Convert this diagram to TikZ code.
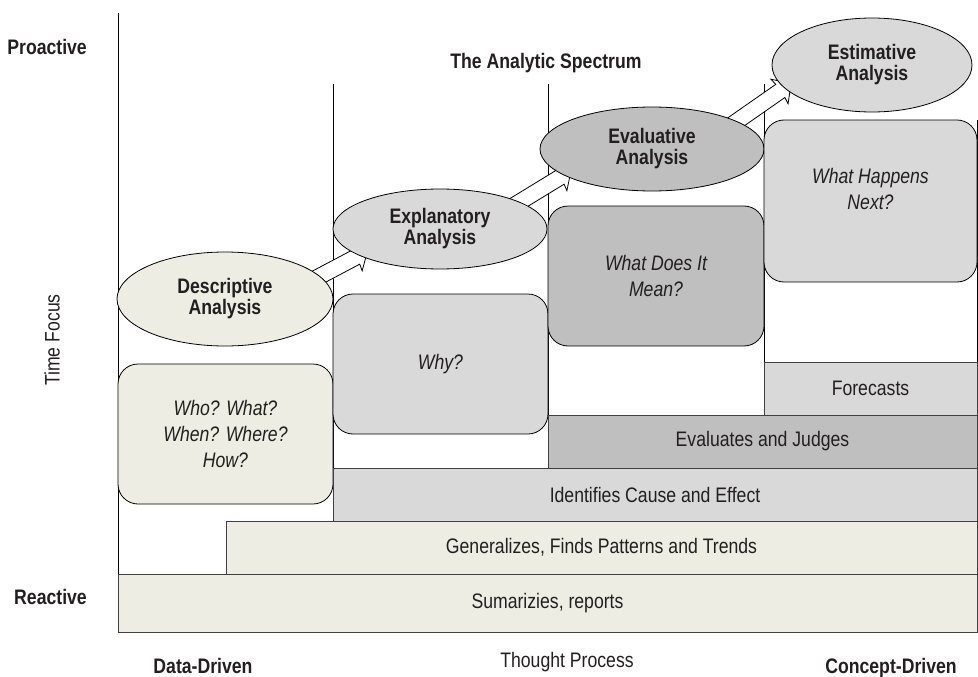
\documentclass[tikz,border=0pt]{standalone}
\usepackage{fontspec}
\setmainfont{Liberation Sans}[FakeStretch=0.84]
\usetikzlibrary{calc,shapes.geometric}
\definecolor{beige}{HTML}{EEEDE3}
\definecolor{lgray}{HTML}{D9D9D9}
\definecolor{dgray}{HTML}{BFBFBF}
\definecolor{txt}{HTML}{231F20}
\newcommand\hollowarrow[2]{%
  \path (#1) coordinate (ha) (#2) coordinate (hb)
    ($(hb)!13pt!(ha)$) coordinate (hh)
    ($(hb)!14pt!(ha)$) coordinate (hk);
  \draw[harrow] ($(ha)!8pt!90:(hb)$) -- ($(hh)!8pt!90:(hb)$) -- ($(hk)!15pt!90:(hb)$) -- (hb)
    -- ($(hk)!15pt!-90:(hb)$) -- ($(hh)!8pt!-90:(hb)$) -- ($(ha)!8pt!-90:(hb)$) -- cycle;}
\begin{document}
\begin{tikzpicture}[x=1pt,y=-1pt,
  lbl/.style={font=\fontsize{21}{21}\selectfont\bfseries, text=txt, align=center, inner sep=0pt},
  ital/.style={font=\fontsize{21}{26}\selectfont\itshape, text=txt, align=center},
  plain/.style={font=\fontsize{21}{24}\selectfont, text=txt},
  bar/.style={draw=black!75, line width=1pt, inner sep=0pt, plain},
  rbox/.style={draw=black, line width=0.8pt, rounded corners=20pt, inner sep=0pt, ital},
  ell/.style={draw=black, line width=0.8pt, ellipse, inner sep=0pt, lbl},
  harrow/.style={draw=black, fill=white, line width=0.8pt, line join=miter},
  vline/.style={draw=black, line width=0.9pt}
]
\useasboundingbox (0,0) rectangle (978,677);

% axis and column lines
\draw[vline] (118,13) -- (118,574);
\draw[vline] (333,84) -- (333,468);
\draw[vline] (548,84) -- (548,415);
\draw[vline] (764,84) -- (764,362);
\draw[vline] (977,120) -- (977,362);

% arrow end points
\coordinate (a1s) at (290,292); \coordinate (a1e) at (367.5,251);
\coordinate (a2s) at (500,214); \coordinate (a2e) at (571,170.6);
\coordinate (a3s) at (715,136.5); \coordinate (a3e) at (791,83.5);
\hollowarrow{a1s}{a1e}
\hollowarrow{a2s}{a2e}
\hollowarrow{a3s}{a3e}

% ellipses
\node[ell, fill=beige, minimum width=216pt, minimum height=94pt] (desc) at (225,299) {Descriptive\\Analysis};
\node[ell, fill=lgray, minimum width=214pt, minimum height=80pt] (expl) at (440,229) {Explanatory\\Analysis};
\node[ell, fill=dgray, minimum width=224pt, minimum height=84pt] (evalu) at (652,149) {Evaluative\\Analysis};
\node[ell, fill=lgray, minimum width=200pt, minimum height=94pt] (estim) at (872,65) {Estimative\\Analysis};

% rounded question boxes
\node[rbox, fill=beige, minimum width=215pt, minimum height=140pt] (who) at (225.5,434) {Who? What?\\When? Where?\\How?};
\node[rbox, fill=lgray, minimum width=215pt, minimum height=140pt] (why) at (440.5,364) {Why?};
\node[rbox, fill=dgray, minimum width=216pt, minimum height=140pt] (mean) at (656,276) {What Does It\\Mean?};
\node[rbox, fill=lgray, minimum width=213pt, minimum height=162pt] (next) at (870.5,201) {};
\node[ital] (nextt) at (870.5,189) {What Happens\\Next?};

% bars
\node[bar, fill=lgray, minimum width=213pt, minimum height=53pt] (fore) at (870.5,388.5) {Forecasts};
\node[bar, fill=dgray, minimum width=429pt, minimum height=53pt] (judge) at (762.5,441.5) {Evaluates and Judges};
\node[bar, fill=lgray, minimum width=644pt, minimum height=53pt] (cause) at (655,494.5) {Identifies Cause and Effect};
\node[bar, fill=beige, minimum width=751pt, minimum height=53pt] (gen) at (601.5,547.5) {Generalizes, Finds Patterns and Trends};
\node[bar, fill=beige, minimum width=859pt, minimum height=58pt] (sum) at (547.5,603) {Sumarizies, reports};

% axis labels
\node[lbl, anchor=base east] (pro) at (87,55) {Proactive};
\node[lbl, anchor=base east] (rea) at (87,604) {Reactive};
\node[plain, rotate=90, inner sep=0pt] (time) at (52,340) {Time Focus};
\node[lbl, anchor=base] (title) at (546,69) {The Analytic Spectrum};
\node[lbl, anchor=base] (dd) at (203,673) {Data-Driven};
\node[plain, anchor=base, inner sep=0pt] (tp) at (567,667) {Thought Process};
\node[lbl, anchor=base] (cd) at (891,673) {Concept-Driven};
\end{tikzpicture}
\end{document}
